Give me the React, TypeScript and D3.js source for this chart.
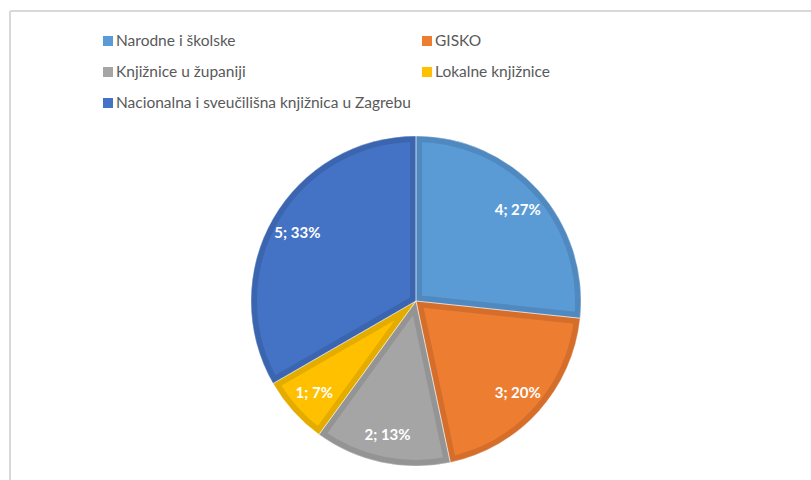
import React from "react";
import * as d3 from "d3";

const categories = [
  "Narodne i školske",
  "GISKO",
  "Knjižnice u županiji",
  "Lokalne knjižnice",
  "Nacionalna i sveučilišna knjižnica u Zagrebu",
];
const values = [4, 3, 2, 1, 5];
const fills = ["#5B9BD5", "#ED7D31", "#A5A5A5", "#FFC000", "#4472C4"];
const borders = ["#4f89bf", "#d46e2a", "#949494", "#e5ac00", "#3c65b0"];

const W = 811;
const H = 480;
const cx = 416;
const cy = 301;
const r = 165;

export default function App() {
  const total = d3.sum(values);
  const pie = d3.pie<number>().sort(null).value((d) => d);
  const arcs = pie(values);
  const bw = 6; // border width, drawn inside each slice
  const arc = d3.arc<d3.PieArcDatum<number>>().innerRadius(0).outerRadius(r);
  const labelArc = d3.arc<d3.PieArcDatum<number>>().innerRadius(r * 0.83).outerRadius(r * 0.83);
  const pct = d3.format(".0%");

  const legendX = [103, 422];
  const legendY = [41, 72, 103];

  return (
    <div style={{ position: "fixed", left: 0, top: 0 }}>
      <svg width={W} height={H} style={{ display: "block", background: "#fff" }}>
        <defs>
          {arcs.map((a, i) => (
            <clipPath key={i} id={`slice${i}`}>
              <path d={arc(a) || ""} transform={`translate(${cx},${cy})`} />
            </clipPath>
          ))}
        </defs>
        <line x1={10} y1={11} x2={W} y2={11} stroke="#d9d9d9" strokeWidth={2} />
        <line x1={10} y1={11} x2={10} y2={H} stroke="#d9d9d9" strokeWidth={2} />

        <g fontFamily="Lato, 'Open Sans', sans-serif" fontSize={15.5} fill="#595959">
          {categories.map((c, i) => {
            const x = legendX[i % 2];
            const y = legendY[Math.floor(i / 2)];
            return (
              <g key={c} transform={`translate(${x},${y})`}>
                <rect x={0} y={-5} width={10} height={10} fill={fills[i]} />
                <text x={13} y={0} dy="0.35em">
                  {c}
                </text>
              </g>
            );
          })}
        </g>

        {arcs.map((a, i) => (
          <g key={i} clipPath={`url(#slice${i})`}>
            <path
              d={arc(a) || ""}
              transform={`translate(${cx},${cy})`}
              fill={fills[i]}
              stroke={borders[i]}
              strokeWidth={bw * 2}
              strokeLinejoin="miter"
            />
          </g>
        ))}
        <g transform={`translate(${cx},${cy})`}>
          {arcs.map((a, i) => (
            <path key={"s" + i} d={arc(a) || ""} fill="none" stroke="#ffffff" strokeOpacity={0.5} strokeWidth={0.8} />
          ))}
        </g>

        <g transform={`translate(${cx},${cy})`}>
          {arcs.map((a, i) => {
            const [lx, ly] = labelArc.centroid(a);
            return (
              <text
                key={"l" + i}
                x={lx}
                y={ly}
                dy="0.35em"
                textAnchor="middle"
                fill="#fff"
                fontFamily="Lato, 'Open Sans', sans-serif"
                fontWeight="bold"
                fontSize={15}
              >
                {`${values[i]}; ${pct(values[i] / total)}`}
              </text>
            );
          })}
        </g>
      </svg>
    </div>
  );
}
